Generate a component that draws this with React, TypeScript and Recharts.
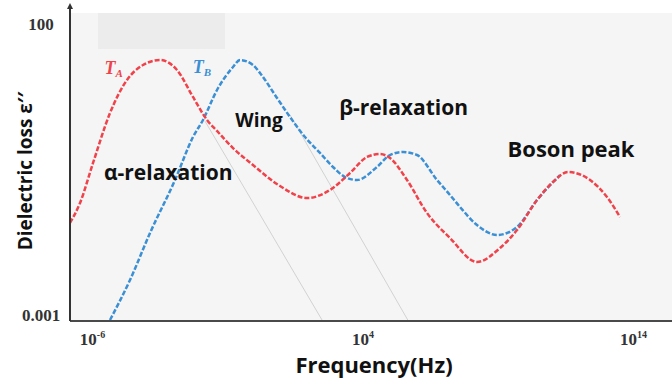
import React from 'react';
import { LineChart, Line, XAxis, YAxis, ReferenceArea, ReferenceDot, CartesianGrid, Label } from 'recharts';

// log10 values (frequency exponent, loss exponent)
const xTicks = [-6, 4, 14];
const yTicks = [-3, 2];
const yTickLabels = ['0.001', '100'];

const redLogF = [-6.832, -6.462, -5.981, -5.353, -4.725, -4.133, -3.505, -2.876, -2.285, -1.767, -1.397, -0.806, -0.067, 0.932, 1.930, 2.780, 3.519, 4.148, 4.628, 4.998, 5.627, 6.366, 7.216, 8.214, 9.065, 9.693, 10.433, 11.024, 11.579, 12.392, 13.020, 13.501];
const redLogEps = [-1.419, -1.076, -0.388, 0.471, 1.038, 1.296, 1.381, 1.210, 0.746, 0.351, 0.162, -0.131, -0.423, -0.784, -0.990, -0.852, -0.560, -0.285, -0.234, -0.302, -0.680, -1.247, -1.677, -2.089, -1.849, -1.540, -1.024, -0.715, -0.543, -0.680, -0.973, -1.316];

const blueLogF = [-5.353, -4.614, -3.874, -2.950, -2.285, -1.915, -1.397, -0.806, -0.547, -0.067, 0.192, 0.821, 1.301, 1.856, 2.410, 2.891, 3.335, 3.778, 4.518, 4.998, 5.479, 5.996, 6.736, 7.216, 7.586, 8.214, 8.954, 9.693, 10.433, 11.283];
const blueLogEps = [-3.086, -2.399, -1.591, -0.680, 0.058, 0.351, 0.866, 1.261, 1.381, 1.296, 1.158, 0.729, 0.402, 0.058, -0.216, -0.457, -0.629, -0.680, -0.457, -0.251, -0.199, -0.251, -0.680, -0.938, -1.144, -1.454, -1.625, -1.488, -1.024, -0.595];

const wingALogF = [-1.84, 2.49];
const wingALogEps = [0.33, -3.09];
const wingBLogF = [1.30, 5.66];
const wingBLogEps = [0.44, -3.09];

const annotations = [
  { text: 'α-relaxation', x: -3.2, y: -0.56, size: 21 },
  { text: 'Wing', x: 0.155, y: 0.35, size: 19 },
  { text: 'β-relaxation', x: 5.5, y: 0.57, size: 21 },
  { text: 'Boson peak', x: 11.69, y: -0.16, size: 22 },
];

const X_MIN = -6.832;
const X_MAX = 15.423;
const Y_MIN = -3.103;
const Y_MAX = 2.189;

const toPts = (xs: number[], ys: number[]) => xs.map((x, i) => ({ x, y: ys[i] }));
const red = toPts(redLogF, redLogEps);
const blue = toPts(blueLogF, blueLogEps);
const wingA = toPts(wingALogF, wingALogEps);
const wingB = toPts(wingBLogF, wingBLogEps);

const SANS = '"Open Sans", Lato, sans-serif';
const SERIF = '"Liberation Serif", "Times New Roman", serif';

const XTick = (props: any) => {
  const { x, y, payload } = props;
  return (
    <text x={x} y={y + 24} textAnchor="middle" fontFamily={SERIF} fontWeight="bold" fontSize={17} fill="#333">
      <tspan>10</tspan>
      <tspan dy={-7} fontSize={10}>{String(payload.value)}</tspan>
    </text>
  );
};

const YTick = (props: any) => {
  const { x, y, payload } = props;
  const idx = yTicks.indexOf(payload.value);
  return (
    <text x={x - 29} y={y} dy="0.35em" textAnchor="middle" fontFamily={SERIF} fontWeight="bold" fontSize={17} fill="#333">
      {yTickLabels[idx]}
    </text>
  );
};

const Arrow = (props: any) => {
  const { cx, cy } = props;
  return (
    <g>
      <line x1={cx} y1={cy} x2={cx} y2={cy - 6} stroke="#333" strokeWidth={2} />
      <polygon points={`${cx - 3},${cy - 4} ${cx + 3},${cy - 4} ${cx},${cy - 10}`} fill="#333" />
    </g>
  );
};

const AnnLabel = (text: string, size: number) => (props: any) => {
  const vb = props.viewBox || {};
  const cx = vb.x + (vb.width || 0) / 2;
  const cy = vb.y + (vb.height || 0) / 2;
  return (
    <text x={cx} y={cy} dy="0.35em" textAnchor="middle" fontFamily={SANS} fontWeight="bold" fontSize={size} fill="#111">
      {text}
    </text>
  );
};

const TLabel = (main: string, sub: string, color: string) => (props: any) => {
  const vb = props.viewBox || {};
  return (
    <text x={vb.x} y={vb.y} fontFamily={SERIF} fontStyle="italic" fontWeight="bold" fontSize={18} fill={color}>
      <tspan>{main}</tspan>
      <tspan dy={3} fontSize={11}>{sub}</tspan>
    </text>
  );
};

export default function App() {
  return (
    <div style={{ position: 'absolute', left: 0, top: 0, background: '#fff' }}>
      <LineChart width={672} height={381} margin={{ top: 13, right: 0, bottom: 0, left: 0 }}>
        <CartesianGrid fill="#f5f5f5" horizontal={false} vertical={false} />
        <XAxis
          dataKey="x"
          type="number"
          domain={[X_MIN, X_MAX]}
          allowDataOverflow
          ticks={xTicks}
          interval={0}
          tickLine={false}
          tickSize={0}
          tickMargin={0}
          height={60}
          axisLine={{ stroke: '#4a4a4a', strokeWidth: 2 }}
          tick={<XTick />}
        >
          <Label
            content={() => (
              <text x={374} y={373} textAnchor="middle" fontFamily={SANS} fontWeight="bold" fontSize={22} fill="#111">
                Frequency(Hz)
              </text>
            )}
          />
        </XAxis>
        <YAxis
          dataKey="y"
          type="number"
          domain={[Y_MIN, Y_MAX]}
          allowDataOverflow
          ticks={yTicks}
          interval={0}
          tickLine={false}
          tickSize={0}
          tickMargin={0}
          width={70}
          axisLine={{ stroke: '#333', strokeWidth: 2 }}
          tick={<YTick />}
        >
          <Label
            content={() => (
              <text x={32} y={171} textAnchor="middle" transform="rotate(-90 32 171)" fontFamily={SANS} fontWeight="bold" fontSize={19} fill="#111">
                Dielectric loss ε′′
              </text>
            )}
          />
        </YAxis>
        <ReferenceArea x1={-5.797} x2={-1.102} y1={1.57} y2={Y_MAX} fill="#ececec" fillOpacity={1} stroke="none" ifOverflow="visible" />
        <Line data={wingA} dataKey="y" type="linear" stroke="#d2d2d2" strokeWidth={1} dot={false} isAnimationActive={false} />
        <Line data={wingB} dataKey="y" type="linear" stroke="#d2d2d2" strokeWidth={1} dot={false} isAnimationActive={false} />
        <Line data={blue} dataKey="y" type="monotone" stroke="#3b8fd4" strokeWidth={2.5} strokeDasharray="5 2" dot={false} isAnimationActive={false} />
        <Line data={red} dataKey="y" type="monotone" stroke="#f0424a" strokeWidth={2.5} strokeDasharray="5 2" dot={false} isAnimationActive={false} />
        <ReferenceDot x={X_MIN} y={Y_MAX} r={2} shape={<Arrow />} ifOverflow="visible" />
        <ReferenceDot x={-5.54} y={1.124} r={0.5} fill="none" stroke="none" ifOverflow="visible" label={TLabel('T', 'A', '#f0424a')} />
        <ReferenceDot x={-2.28} y={1.158} r={0.5} fill="none" stroke="none" ifOverflow="visible" label={TLabel('T', 'B', '#3b8fd4')} />
        {annotations.map((a) => (
          <ReferenceDot key={a.text} x={a.x} y={a.y} r={0.5} fill="none" stroke="none" ifOverflow="visible" label={AnnLabel(a.text, a.size)} />
        ))}
      </LineChart>
    </div>
  );
}
